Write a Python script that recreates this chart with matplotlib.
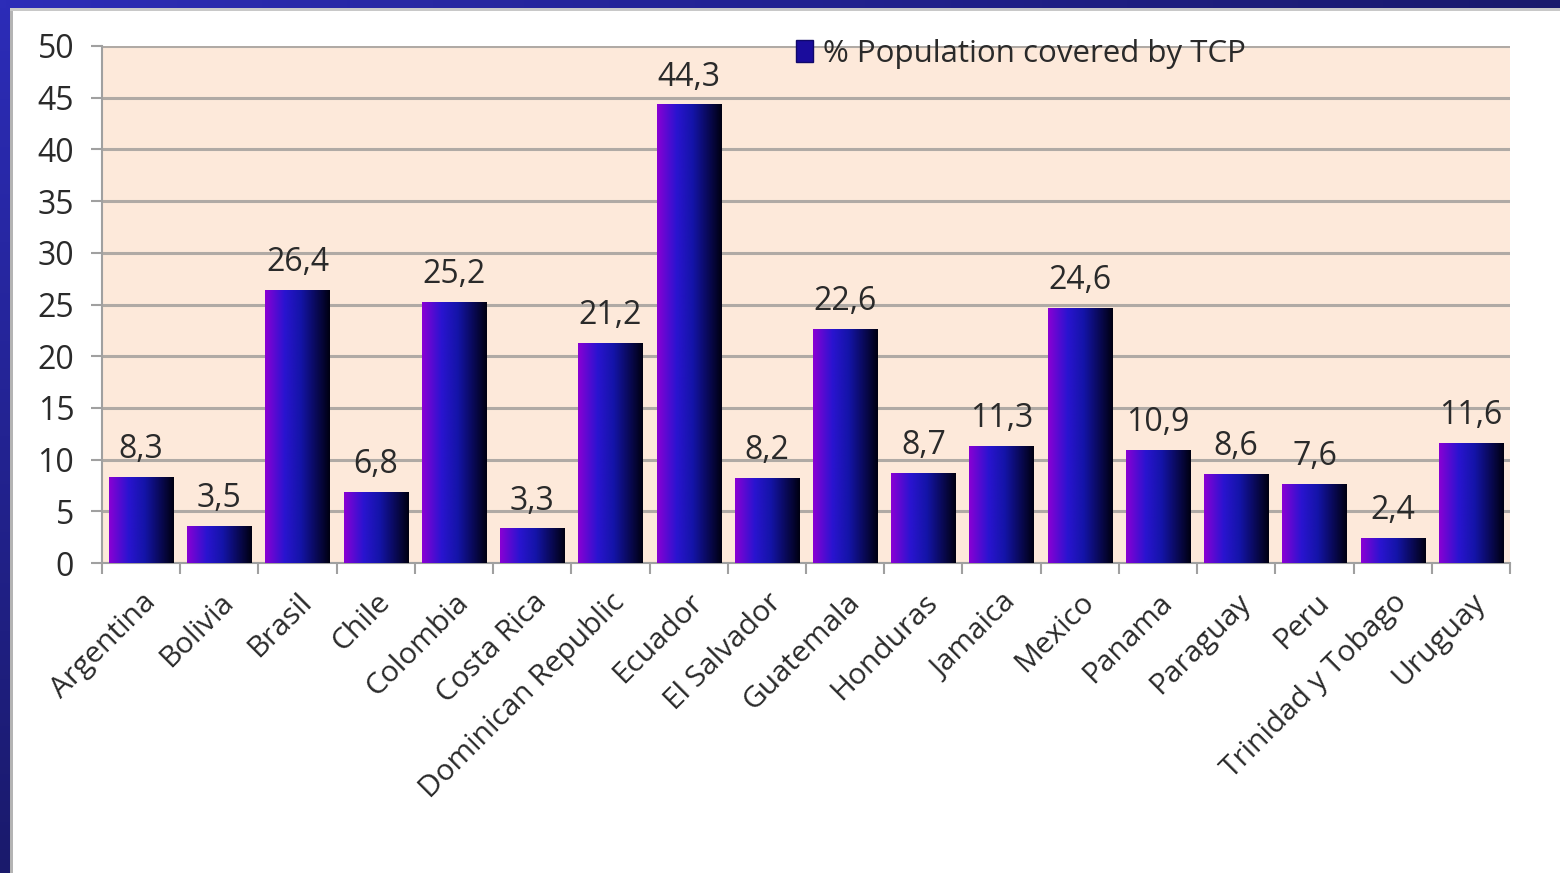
import numpy as np
import matplotlib
matplotlib.use("Agg")
import matplotlib.pyplot as plt
from matplotlib.colors import LinearSegmentedColormap
from matplotlib.patches import Rectangle

countries = ["Argentina", "Bolivia", "Brasil", "Chile", "Colombia", "Costa Rica",
             "Dominican Republic", "Ecuador", "El Salvador", "Guatemala", "Honduras",
             "Jamaica", "Mexico", "Panama", "Paraguay", "Peru", "Trinidad y Tobago",
             "Uruguay"]
coverage = [8.3, 3.5, 26.4, 6.8, 25.2, 3.3, 21.2, 44.3, 8.2, 22.6, 8.7,
            11.3, 24.6, 10.9, 8.6, 7.6, 2.4, 11.6]
series_name = "% Population covered by TCP"
yticks = [0, 5, 10, 15, 20, 25, 30, 35, 40, 45, 50]

plt.rcParams['font.family'] = ['Open Sans', 'DejaVu Sans']
FS_LABEL = 21.5
FS_NUM = 23
FS_LEG = 22.5
TXT = "#2a2a2a"

W, H = 1560, 873
fig = plt.figure(figsize=(W / 100, H / 100), dpi=100)
fig.patch.set_facecolor("white")

# slide frame: dark blue strips on the left and top edges
bg = fig.add_axes([0, 0, 1, 1], zorder=-5)
bg.axis("off")
frame_cmap = LinearSegmentedColormap.from_list("frame", ["#2c2cb8", "#1a1a6c"])
grad_v = np.linspace(0, 1, 256).reshape(-1, 1)
grad_h = np.linspace(0, 1, 256).reshape(1, -1)
bg.imshow(grad_v, cmap=frame_cmap, extent=(0, 10, H, 0), aspect="auto")
bg.imshow(grad_h, cmap=frame_cmap, extent=(0, W, 8, 0), aspect="auto")
bg.add_patch(Rectangle((10, 8), 3, H, color="#b4b4b4", lw=0))
bg.add_patch(Rectangle((10, 8), W, 3, color="#c8c8c8", lw=0))
bg.set_xlim(0, W)
bg.set_ylim(H, 0)

ax = fig.add_axes([102 / W, 1 - 563 / H, (1510 - 102) / W, (563 - 46) / H])
ax.set_facecolor("#fde9da")

x = np.arange(len(countries))
bars = ax.bar(x, coverage, width=0.82, color="none", edgecolor="none",
              label=series_name, zorder=3)

bar_cmap = LinearSegmentedColormap.from_list(
    "bar", [(0.0, "#8a00d4"), (0.3, "#2a14d0"), (0.55, "#1414a8"), (1.0, "#000010")])
for b in bars:
    x0, w, h = b.get_x(), b.get_width(), b.get_height()
    ax.imshow(grad_h, cmap=bar_cmap, extent=(x0, x0 + w, 0, h),
              aspect="auto", zorder=3, interpolation="bilinear")
    ax.text(x0 + w / 2, h + 1.1, f"{h:.1f}".replace(".", ","),
            ha="center", va="bottom", fontsize=FS_NUM, color=TXT, zorder=4)

ax.set_xlim(-0.5, len(countries) - 0.5)
ax.set_ylim(0, 50)
ax.set_yticks(yticks)
ax.yaxis.grid(True, color="#b0aaa5", lw=2.2, zorder=1)
ax.set_axisbelow(True)

ax.set_xticks(x)
ax.set_xticklabels(countries, rotation=45, ha="right", rotation_mode="anchor",
                   fontsize=FS_LABEL, color=TXT)
ax.tick_params(axis="x", which="major", length=0, pad=18)
ax.set_xticks(np.arange(-0.5, len(countries)), minor=True)
ax.tick_params(axis="x", which="minor", length=8, width=1.5, color="#a0a0a0")
ax.tick_params(axis="y", length=8, width=1.5, color="#a0a0a0",
               labelsize=FS_NUM, labelcolor=TXT, pad=12)

for side in ("top", "right"):
    ax.spines[side].set_visible(False)
for side in ("left", "bottom"):
    ax.spines[side].set_color("#a0a0a0")
    ax.spines[side].set_linewidth(1.5)

leg = ax.legend(loc="upper left", bbox_to_anchor=(0.473, 1.068), frameon=False,
                fontsize=FS_LEG, handlelength=0.55, handleheight=0.7,
                handletextpad=0.3, labelcolor=TXT)
for hdl in leg.legend_handles:
    hdl.set_facecolor("#1a0c9c")
    hdl.set_edgecolor("#10086a")

fig.savefig("out.png", dpi=100, facecolor="white")
